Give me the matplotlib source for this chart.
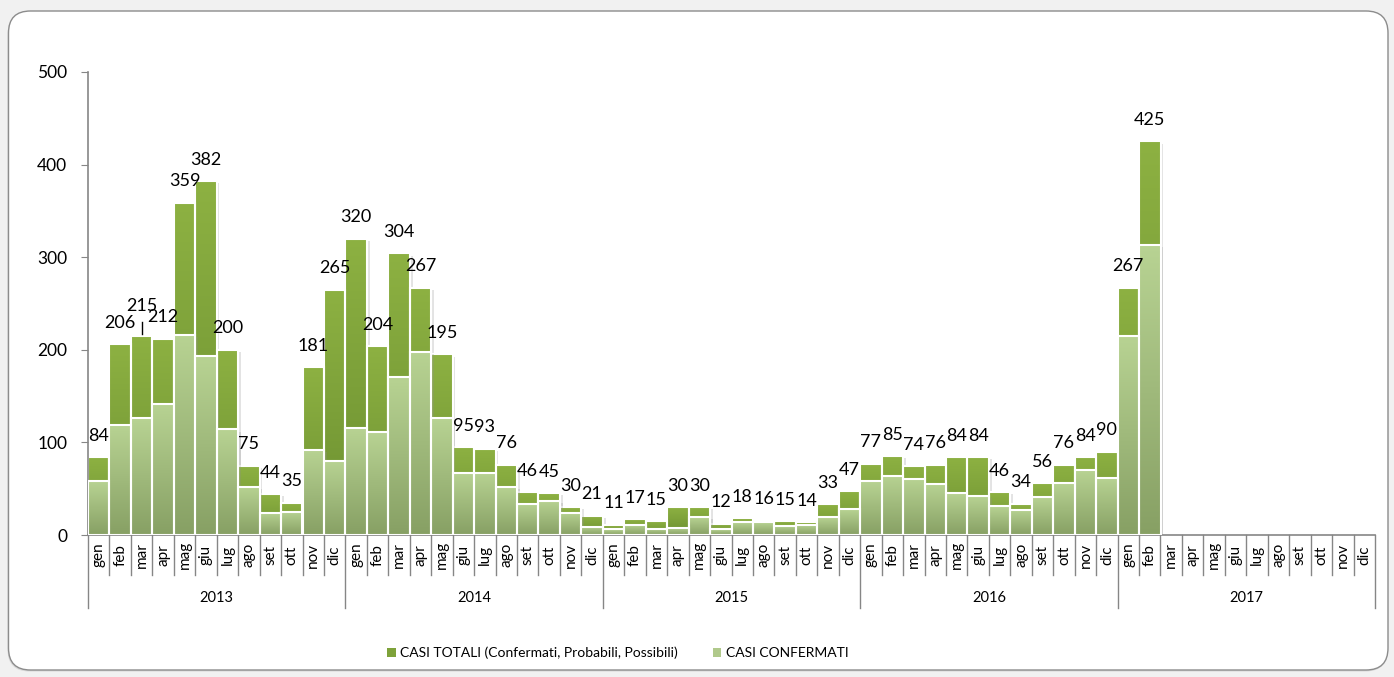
import numpy as np
import matplotlib
matplotlib.use("Agg")
import matplotlib.pyplot as plt
from matplotlib.patches import FancyBboxPatch, Rectangle
from matplotlib.colors import LinearSegmentedColormap
from matplotlib.lines import Line2D
import matplotlib.transforms as mtransforms
import matplotlib.patheffects as pe

plt.rcParams['font.family'] = ['Lato', 'DejaVu Sans']

years = ['2013', '2014', '2015', '2016', '2017']
months = ['gen', 'feb', 'mar', 'apr', 'mag', 'giu', 'lug', 'ago', 'set', 'ott', 'nov', 'dic']

casi_totali = [84, 206, 215, 212, 359, 382, 200, 75, 44, 35, 181, 265,
               320, 204, 304, 267, 195, 95, 93, 76, 46, 45, 30, 21,
               11, 17, 15, 30, 30, 12, 18, 16, 15, 14, 33, 47,
               77, 85, 74, 76, 84, 84, 46, 34, 56, 76, 84, 90,
               267, 425]
casi_confermati = [58, 119, 126, 142, 216, 193, 114, 52, 24, 25, 92, 80,
                   116, 111, 171, 198, 126, 67, 67, 52, 34, 37, 24, 9,
                   6, 11, 7, 8, 19, 6, 14, 14, 10, 11, 19, 28,
                   58, 64, 61, 55, 45, 42, 31, 27, 41, 56, 70, 62,
                   215, 313]

legend_labels = ['CASI TOTALI (Confermati, Probabili, Possibili)', 'CASI CONFERMATI']

n_cat = len(years) * len(months)
W, H = 1394, 677
fig = plt.figure(figsize=(W / 100, H / 100), dpi=100, facecolor='#f1f1f1')

# outer rounded frame
shadow = FancyBboxPatch((0.075, 0.055), 13.80, 6.59,
                        boxstyle='round,pad=0,rounding_size=0.22',
                        transform=fig.dpi_scale_trans, facecolor='#d9d9d9',
                        edgecolor='none', zorder=-2)
frame = FancyBboxPatch((0.085, 0.07), 13.795, 6.59,
                       boxstyle='round,pad=0,rounding_size=0.22',
                       transform=fig.dpi_scale_trans, facecolor='white',
                       edgecolor='#8c8c8c', lw=1.0, zorder=-1)
fig.patches.extend([shadow, frame])

ax_l, ax_r, ax_b, ax_t = 88, 1375, 535, 72
ax = fig.add_axes([ax_l / W, 1 - ax_b / H, (ax_r - ax_l) / W, (ax_b - ax_t) / H])
ax.set_facecolor('none')
ax.set_zorder(1)

x = np.arange(len(casi_totali))

dark_top, dark_bot = '#8db142', '#6b8f30'
light_top, light_bot = '#b8d393', '#87a064'
cm_dark = LinearSegmentedColormap.from_list('d', [dark_bot, dark_top])
cm_light = LinearSegmentedColormap.from_list('l', [light_bot, light_top])
grad = np.linspace(0, 1, 256).reshape(-1, 1)

shadow_fx = [pe.SimplePatchShadow(offset=(2, -1.5), shadow_rgbFace='#909090', alpha=0.25), pe.Normal()]


def gradient_bars(values, cmap, mid, z):
    bars = ax.bar(x, values, width=1.0, color=mid, edgecolor='none', zorder=z)
    for b in bars:
        b.set_path_effects(shadow_fx)
        x0, w, h = b.get_x(), b.get_width(), b.get_height()
        im = ax.imshow(grad, extent=[x0, x0 + w, 0, h], origin='lower', cmap=cmap,
                       aspect='auto', zorder=z + 0.1, interpolation='bilinear')
        im.set_clip_path(b)
    ax.bar(x, values, width=1.0, fill=False, edgecolor='white', linewidth=1.5, zorder=z + 0.2)
    return bars


gradient_bars(casi_totali, cm_dark, '#7ea23a', 2)
gradient_bars(casi_confermati, cm_light, '#a4bd7f', 3)

for i, v in enumerate(casi_totali):
    if v == 215:
        ax.annotate(str(v), (i, v), xytext=(0, 21.5), textcoords='offset points',
                    ha='center', va='center', fontsize=13, color='black', zorder=6)
        ax.plot([i, i], [v + 2, v + 15], color='black', lw=1, zorder=6)
    else:
        ax.annotate(str(v), (i, v), xytext=(0, 15.5), textcoords='offset points',
                    ha='center', va='center', fontsize=13, color='black', zorder=6)

ax.set_xlim(-0.5, n_cat - 0.5)
ax.set_ylim(0, 500)
ax.set_yticks(range(0, 501, 100))
ax.tick_params(axis='y', length=5, color='#868686', labelsize=12.5, pad=10)
ax.tick_params(axis='x', length=0, labelbottom=False)
for s in ['top', 'right']:
    ax.spines[s].set_visible(False)
for s in ['left', 'bottom']:
    ax.spines[s].set_color('#868686')
    ax.spines[s].set_linewidth(1.2)

trans = mtransforms.blended_transform_factory(ax.transData, ax.transAxes)
ah = ax_b - ax_t
month_y = (ax_b - 555) / ah
sep_y = (ax_b - 575) / ah
year_y = (ax_b - 598) / ah
year_line_y = (ax_b - 608) / ah

for i in range(n_cat):
    ax.text(i, month_y, months[i % 12], transform=trans, rotation=90, ha='center',
            va='center', fontsize=11, color='black')
for i in range(n_cat + 1):
    bottom = year_line_y if i % 12 == 0 else sep_y
    ax.add_line(Line2D([i - 0.5, i - 0.5], [0, bottom], transform=trans, color='#868686',
                       lw=1.0, clip_on=False))
for k, yr in enumerate(years):
    ax.text(k * 12 + 5.5, year_y, yr, transform=trans, ha='center', va='center',
            fontsize=10.5, color='black')

handles = [Rectangle((0, 0), 1, 1, facecolor='#7ea23a', edgecolor='none'),
           Rectangle((0, 0), 1, 1, facecolor='#b0c98b', edgecolor='none')]
fig.legend(handles, legend_labels, loc='center', bbox_to_anchor=(618 / W, 1 - 653 / H),
           ncol=2, frameon=False, fontsize=10, handlelength=0.6, handleheight=0.6,
           handletextpad=0.35, columnspacing=2.5)

fig.savefig('out.png', dpi=100, facecolor=fig.get_facecolor())
